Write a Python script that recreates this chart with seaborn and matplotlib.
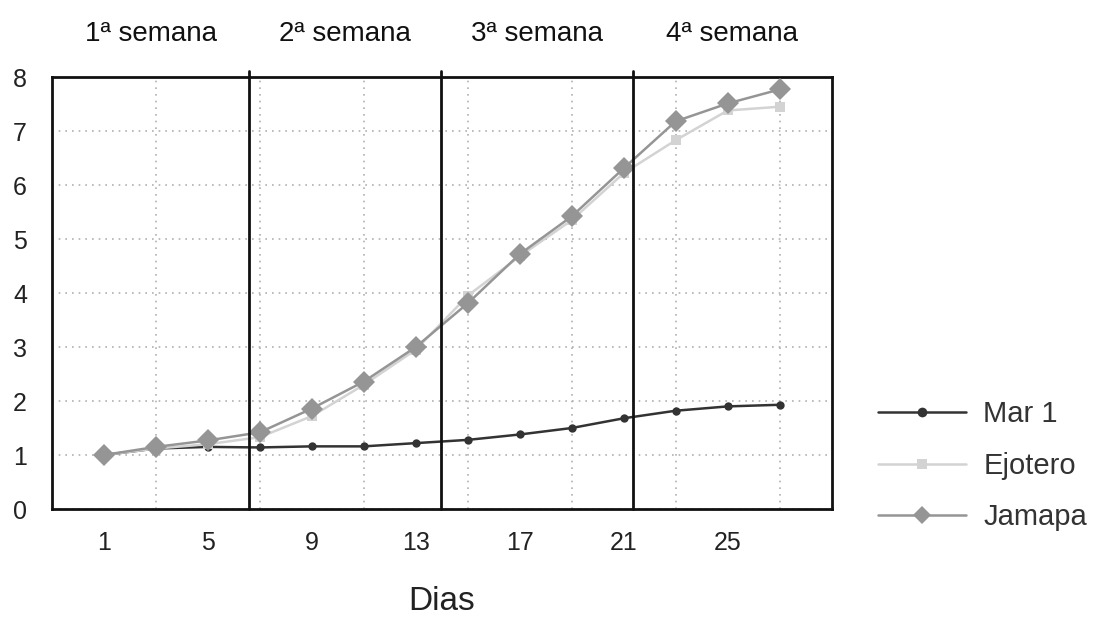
import matplotlib
matplotlib.use("Agg")
import matplotlib.pyplot as plt
import seaborn as sns
import pandas as pd
from matplotlib.ticker import FixedLocator

dias = [1, 3, 5, 7, 9, 11, 13, 15, 17, 19, 21, 23, 25, 27]
mar1 = [1.0, 1.12, 1.15, 1.14, 1.16, 1.16, 1.22, 1.28, 1.38, 1.50, 1.68, 1.82, 1.90, 1.93]
ejotero = [1.0, 1.12, 1.20, 1.33, 1.72, 2.30, 2.95, 3.95, 4.68, 5.35, 6.22, 6.83, 7.38, 7.45]
jamapa = [1.0, 1.15, 1.27, 1.42, 1.86, 2.36, 3.0, 3.81, 4.72, 5.42, 6.31, 7.18, 7.51, 7.77]
series = ["Mar 1", "Ejotero", "Jamapa"]
semanas = ["1ª semana", "2ª semana", "3ª semana", "4ª semana"]
limites_semana = [6.6, 13.95, 21.35]
xticks = [1, 5, 9, 13, 17, 21, 25]
yticks = [0, 1, 2, 3, 4, 5, 6, 7, 8]

df = pd.DataFrame({
    "Dia": dias * 3,
    "Valor": mar1 + ejotero + jamapa,
    "Variedad": [s for s in series for _ in dias],
})

sns.set_theme(style="white")
plt.rcParams["font.family"] = ["Liberation Sans", "DejaVu Sans"]

fig = plt.figure(figsize=(11.03, 6.19), dpi=100)
ax = fig.add_axes([0.0471, 0.1777, 0.7069, 0.6979])

palette = {"Mar 1": "#333333", "Ejotero": "#d3d3d3", "Jamapa": "#959595"}
markers = {"Mar 1": "o", "Ejotero": "s", "Jamapa": "D"}
sns.lineplot(data=df, x="Dia", y="Valor", hue="Variedad", style="Variedad",
             palette=palette, markers=markers, dashes=False, ax=ax,
             linewidth=1.8, markersize=7, markeredgewidth=0, zorder=3)
for line, s in zip(ax.get_lines()[:3], series):
    if s == "Jamapa":
        line.set_markersize(11)
    elif s == "Mar 1":
        line.set_markersize(6)
    else:
        line.set_markersize(7)

ax.set_xlim(-1, 29)
ax.set_ylim(0, 8)
ax.xaxis.set_major_locator(FixedLocator(xticks))
ax.xaxis.set_minor_locator(FixedLocator(dias))
ax.yaxis.set_major_locator(FixedLocator(yticks))
ax.grid(which="minor", axis="x", color="#b0b0b0", linestyle=(0, (1, 3)), linewidth=1.2)
ax.grid(which="major", axis="y", color="#b0b0b0", linestyle=(0, (1, 3)), linewidth=1.2)
ax.grid(which="major", axis="x", visible=False)
ax.tick_params(axis="both", which="both", length=0, labelsize=18, colors="#222222")
ax.tick_params(axis="x", pad=16)
ax.tick_params(axis="y", pad=18)

for sp in ax.spines.values():
    sp.set_color("#111111")
    sp.set_linewidth(2)

for xv in limites_semana:
    ax.axvline(xv, ymin=0, ymax=1.015, color="#111111", linewidth=2, clip_on=False, zorder=4)

bounds = [-1] + limites_semana + [29]
for i, lab in enumerate(semanas):
    cx = (bounds[i] + bounds[i + 1]) / 2
    ax.text(cx, 1.10, lab, transform=ax.get_xaxis_transform(), ha="center", va="center",
            fontsize=20, color="#111111")

ax.set_xlabel("Dias", fontsize=24, color="#222222", labelpad=22)
ax.set_ylabel("")

handles, labels = ax.get_legend_handles_labels()
for h in handles:
    h.set_markersize(7 if h.get_label() != "Jamapa" else 9)
leg = ax.legend(handles, labels, loc="center left", bbox_to_anchor=(1.045, 0.10),
                frameon=False, fontsize=21, handlelength=3.0, labelspacing=0.8,
                handletextpad=0.6, borderaxespad=0.0, title=None)
for t in leg.get_texts():
    t.set_color("#333333")

fig.savefig("out.png", dpi=100)
